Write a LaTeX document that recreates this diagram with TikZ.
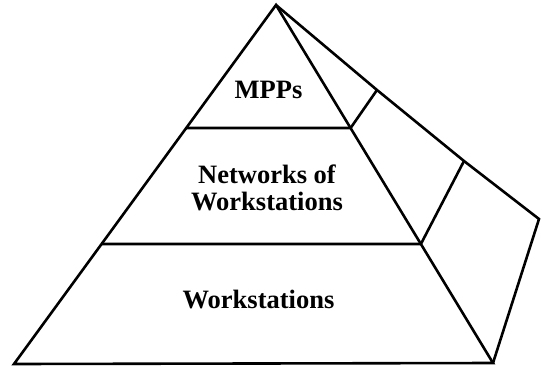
\documentclass[tikz,border=0pt]{standalone}
\usepackage{fontspec}
\setmainfont{Liberation Serif}
\begin{document}
\begin{tikzpicture}[x=1pt,y=-1pt,
  edge/.style={line width=2.6pt,line join=miter,line cap=butt},
  lbl/.style={font=\fontsize{26.5}{27}\selectfont\bfseries,inner sep=0pt,align=center}]
\useasboundingbox (0,0) rectangle (542,368);
\coordinate (A) at (276,5);
\coordinate (BL) at (14,364);
\coordinate (BR) at (493,363);
\coordinate (R) at (539,219);
\coordinate (L1) at (186.2,128);
\coordinate (P1) at (350.6,128);
\coordinate (Q1) at (377,90);
\coordinate (L2) at (101.6,244);
\coordinate (P2) at (420.9,244);
\coordinate (Q2) at (464,161);
\draw[edge] (A) -- (BL) -- (BR) -- cycle;
\draw[edge] (A) -- (Q1) -- (Q2) -- (R) -- (BR);
\draw[edge] (L1) -- (P1) -- (Q1);
\draw[edge] (L2) -- (P2) -- (Q2);
\node[lbl,anchor=base] (mpp) at (268.5,98) {MPPs};
\node[lbl,anchor=base] (now) at (267,210) {Networks of\\Workstations};
\node[lbl,anchor=base] (ws) at (258.5,308) {Workstations};
\end{tikzpicture}
\end{document}
